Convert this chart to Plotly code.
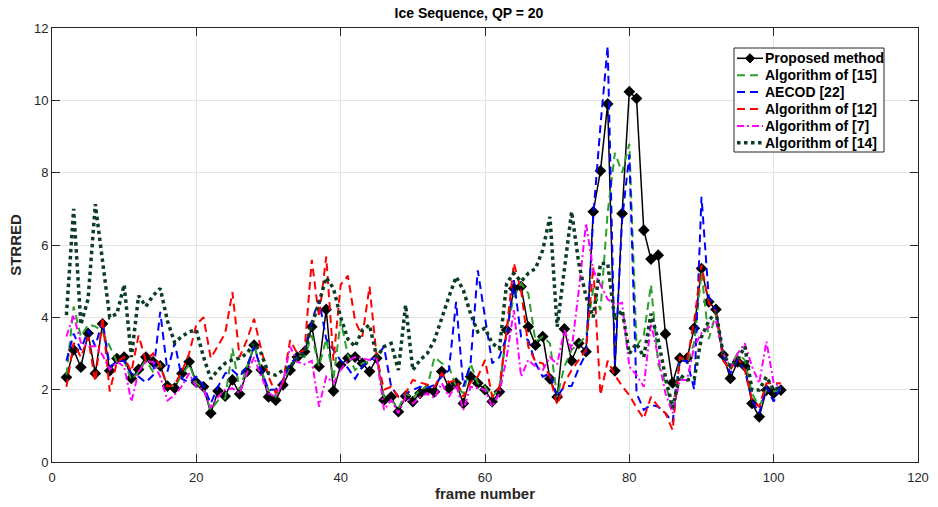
import plotly.graph_objects as go

frames = list(range(2, 102))

proposed = [2.34, 3.1, 2.62, 3.56, 2.45, 3.82, 2.52, 2.86, 2.9, 2.31,
            2.56, 2.9, 2.77, 2.66, 2.1, 2.04, 2.45, 2.77, 2.2, 2.08,
            1.35, 1.96, 1.82, 2.27, 1.88, 2.5, 3.23, 2.55, 1.8, 1.71,
            2.13, 2.54, 2.9, 3.05, 3.74, 2.64, 4.22, 1.96, 2.68, 2.87,
            2.9, 2.73, 2.5, 2.87, 1.71, 1.8, 1.39, 1.82, 1.67, 1.9,
            2.0, 1.94, 2.5, 2.04, 2.18, 1.62, 2.36, 2.18, 2.0, 1.67,
            1.94, 3.65, 4.8, 4.85, 3.74, 3.23, 3.47, 2.3, 1.8, 3.68,
            2.8, 3.28, 3.05, 6.92, 8.05, 9.9, 2.52, 6.87, 10.24, 10.05,
            6.41, 5.61, 5.72, 3.54, 2.19, 2.87, 2.87, 3.7, 5.35, 4.43,
            4.22, 2.96, 2.31, 2.77, 2.65, 1.62, 1.25, 1.99, 1.9, 1.99]

alg15 = [2.4, 4.3, 3.47, 3.8, 3.75, 3.6, 3.2, 2.77, 2.8, 2.27,
         2.5, 2.8, 2.5, 2.7, 2.1, 2.1, 2.4, 2.7, 2.18, 2.0,
         1.44, 1.7, 1.76, 3.14, 2.0, 2.64, 3.23, 2.54, 2.0, 1.8,
         2.2, 2.64, 2.96, 2.9, 3.5, 2.64, 3.4, 2.3, 3.9, 2.96,
         2.54, 2.73, 2.77, 2.9, 1.8, 1.71, 1.48, 1.9, 1.76, 2.0,
         2.08, 2.9, 2.73, 2.64, 2.08, 1.9, 2.73, 2.18, 2.08, 1.8,
         2.04, 3.65, 4.57, 4.94, 4.66, 3.33, 3.47, 3.28, 1.8, 2.64,
         3.1, 3.28, 3.47, 4.8, 4.2, 6.9, 8.55, 8.0, 8.8, 3.2,
         3.5, 4.9, 2.7, 2.2, 1.4, 2.9, 2.73, 3.3, 5.25, 3.4,
         4.1, 3.0, 2.64, 3.0, 2.82, 1.9, 1.53, 1.99, 1.95, 1.99]

aecod22 = [2.8, 3.55, 3.1, 3.65, 3.2, 3.9, 2.64, 2.77, 2.8, 2.45,
           2.36, 2.2, 2.4, 4.15, 2.5, 3.3, 2.3, 2.2, 2.36, 2.1,
           1.62, 2.08, 2.45, 2.54, 2.36, 2.64, 3.19, 2.54, 2.0, 2.0,
           2.27, 2.73, 2.9, 3.1, 3.9, 4.48, 3.4, 3.1, 2.8, 2.6,
           2.3, 2.64, 2.82, 2.9, 3.19, 2.08, 1.8, 1.9, 2.0, 2.08,
           2.05, 2.13, 2.36, 2.54, 4.43, 2.08, 2.73, 5.3, 4.0, 2.73,
           2.9, 3.47, 5.03, 3.47, 3.37, 2.73, 2.36, 2.45, 1.8, 2.1,
           2.1, 2.6, 3.0, 6.8, 9.3, 11.5, 2.7, 6.7, 8.5, 1.9,
           1.44, 1.58, 1.53, 1.35, 1.1, 2.8, 2.8, 2.0, 7.33, 4.57,
           4.2, 2.9, 2.45, 2.82, 2.54, 1.71, 1.35, 2.08, 1.67, 2.08]

alg12 = [2.08, 3.3, 2.9, 3.45, 2.22, 4.0, 1.95, 2.77, 2.9, 2.5,
         3.5, 2.8, 3.0, 2.64, 2.08, 2.15, 2.5, 3.0, 3.8, 4.0,
         2.87, 3.23, 3.56, 4.7, 2.9, 3.37, 3.96, 3.1, 2.36, 1.9,
         2.2, 3.37, 3.0, 3.1, 5.59, 4.0, 5.68, 2.8, 4.9, 5.15,
         3.9, 3.47, 4.85, 2.9, 2.0, 2.08, 1.8, 1.9, 2.27, 2.2,
         2.13, 2.08, 2.45, 2.2, 2.27, 1.8, 2.2, 2.36, 2.82, 1.8,
         2.08, 3.65, 5.49, 4.75, 3.19, 2.77, 2.73, 2.36, 1.58, 2.18,
         2.54, 2.82, 3.1, 5.4, 1.85, 2.8, 2.4, 2.1, 1.85, 1.5,
         1.2, 1.8, 1.53, 1.35, 0.88, 2.9, 2.8, 3.93, 5.45, 4.4,
         4.15, 2.8, 2.54, 2.9, 2.54, 1.71, 1.53, 2.18, 2.18, 2.18]

alg7 = [3.47, 4.06, 3.3, 3.2, 3.2, 2.96, 2.55, 2.77, 2.64, 1.67,
        2.5, 2.77, 2.77, 2.36, 1.7, 1.85, 2.1, 2.45, 2.08, 2.0,
        1.5, 1.8, 2.0, 2.04, 1.9, 2.45, 2.9, 2.36, 1.9, 1.8,
        2.2, 3.19, 2.77, 2.7, 2.8, 1.53, 2.36, 2.18, 2.55, 2.8,
        2.9, 2.87, 2.82, 2.9, 1.44, 1.71, 1.35, 1.8, 1.62, 1.8,
        1.9, 1.76, 2.18, 1.8, 2.13, 1.44, 2.08, 2.04, 2.0, 1.53,
        1.9, 2.9, 4.2, 2.36, 2.82, 2.64, 2.54, 2.9, 2.7, 3.65,
        3.1, 4.75, 6.6, 5.3, 4.9, 4.5, 4.35, 4.4, 2.64, 2.4,
        2.08, 3.83, 2.9, 1.9, 1.35, 2.27, 2.27, 3.2, 3.56, 3.74,
        3.9, 3.0, 2.64, 3.0, 3.28, 2.64, 2.18, 3.33, 2.18, 2.08]

alg14 = [4.06, 7.0, 3.8, 4.5, 7.13, 5.6, 4.0, 4.1, 4.9, 2.9,
         4.6, 4.3, 4.6, 4.8, 3.9, 3.3, 3.47, 3.6, 3.65, 2.9,
         2.3, 2.54, 2.73, 2.82, 2.87, 3.0, 3.28, 3.0, 2.45, 2.4,
         2.54, 2.64, 2.87, 3.0, 3.8, 4.4, 5.1, 4.8, 4.0, 3.4,
         3.19, 3.65, 3.79, 2.9, 3.19, 3.28, 2.54, 4.34, 2.54, 2.82,
         3.0, 3.37, 4.0, 4.57, 5.12, 4.75, 4.1, 3.6, 3.7, 3.28,
         3.14, 4.94, 5.22, 4.99, 5.22, 5.35, 5.86, 6.78, 3.74, 5.3,
         6.92, 5.49, 4.57, 4.0, 5.49, 5.49, 3.93, 4.2, 3.0, 3.28,
         2.9, 4.1, 3.37, 2.36, 1.5, 2.4, 2.27, 2.3, 3.46, 3.9,
         4.15, 3.0, 2.64, 2.82, 3.19, 1.99, 1.99, 2.36, 1.99, 2.08]

series_names = ["Proposed method", "Algorithm of [15]", "AECOD [22]",
                "Algorithm of [12]", "Algorithm of [7]", "Algorithm of [14]"]

x_ticks = [0, 20, 40, 60, 80, 100, 120]
y_ticks = [0, 2, 4, 6, 8, 10, 12]

FONT = "Liberation Sans, Arial, sans-serif"
W, H = 938, 507
ML, MR, MT, MB = 52, 20, 28, 45
PW, PH = W - ML - MR, H - MT - MB

styles = [
    dict(color="black", width=1.5, dash="solid"),
    dict(color="#2ca02c", width=2, dash="8px,5px"),
    dict(color="#0000ff", width=2, dash="8px,5px"),
    dict(color="#ff0000", width=2, dash="8px,5px"),
    dict(color="#ff00ff", width=2, dash="7px,3px,2px,3px"),
    dict(color="#0b3d24", width=3.5, dash="3.5px,3.5px"),
]
values = [proposed, alg15, aecod22, alg12, alg7, alg14]

fig = go.Figure()
for i, (name, vals, st) in enumerate(zip(series_names, values, styles)):
    if i == 0:
        fig.add_trace(go.Scatter(x=frames, y=vals, name=name, mode="lines+markers",
                                 line=st,
                                 marker=dict(symbol="diamond", size=9, color="black"),
                                 showlegend=False))
    else:
        fig.add_trace(go.Scatter(x=frames, y=vals, name=name, mode="lines",
                                 line=st, showlegend=False))


# legend drawn in paper coordinates (pixel positions converted)
def fx(px):
    return (px - ML) / PW


def fy(py):
    return (H - MB - py) / PH


shapes = [dict(type="rect", xref="paper", yref="paper",
               x0=fx(734), x1=fx(884), y0=fy(48), y1=fy(152),
               fillcolor="white", line=dict(color="#262626", width=1), layer="above")]
annotations = []
for i, (name, st) in enumerate(zip(series_names, styles)):
    yc = 58.3 + i * 16.9
    shapes.append(dict(type="line", xref="paper", yref="paper",
                       x0=fx(737), x1=fx(763), y0=fy(yc), y1=fy(yc),
                       line=st, layer="above"))
    if i == 0:
        d = 4.6
        path = "M {a},{b} L {c},{e} L {a},{f} L {g},{e} Z".format(
            a=fx(750), b=fy(yc - d), c=fx(750 + d), e=fy(yc), f=fy(yc + d), g=fx(750 - d))
        shapes.append(dict(type="path", xref="paper", yref="paper", path=path,
                           fillcolor="black", line=dict(color="black", width=1),
                           layer="above"))
    annotations.append(dict(xref="paper", yref="paper", x=fx(764), y=fy(yc),
                            xanchor="left", yanchor="middle", showarrow=False,
                            text="<b>" + name + "</b>", borderpad=0,
                            font=dict(family=FONT, size=14, color="black")))

axis_common = dict(showgrid=True, gridcolor="#e3e3e3", gridwidth=1,
                   showline=True, linecolor="#262626", linewidth=1,
                   mirror="ticks", ticks="inside", ticklen=8, tickcolor="#262626",
                   zeroline=False, automargin=False,
                   tickfont=dict(family=FONT, size=13, color="#262626"))

fig.update_layout(
    width=W, height=H,
    margin=dict(l=ML, r=MR, t=MT, b=MB),
    plot_bgcolor="white", paper_bgcolor="white",
    title=dict(text="<b>Ice Sequence, QP = 20</b>", x=0.5, xanchor="center",
               y=0.975, yanchor="middle",
               font=dict(family=FONT, size=14, color="black")),
    xaxis=dict(range=[0, 120], tickvals=x_ticks, ticktext=[str(v) for v in x_ticks],
               ticklabelstandoff=3,
               title=dict(text="<b>frame number</b>", standoff=4,
                          font=dict(family=FONT, size=15, color="#262626")),
               **axis_common),
    yaxis=dict(range=[0, 12], tickvals=y_ticks, ticktext=[str(v) for v in y_ticks],
               title=dict(text="<b>STRRED</b>", standoff=8,
                          font=dict(family=FONT, size=15, color="#262626")),
               **axis_common),
    shapes=shapes,
    annotations=annotations,
    showlegend=False,
)

fig.write_html("out.html")
